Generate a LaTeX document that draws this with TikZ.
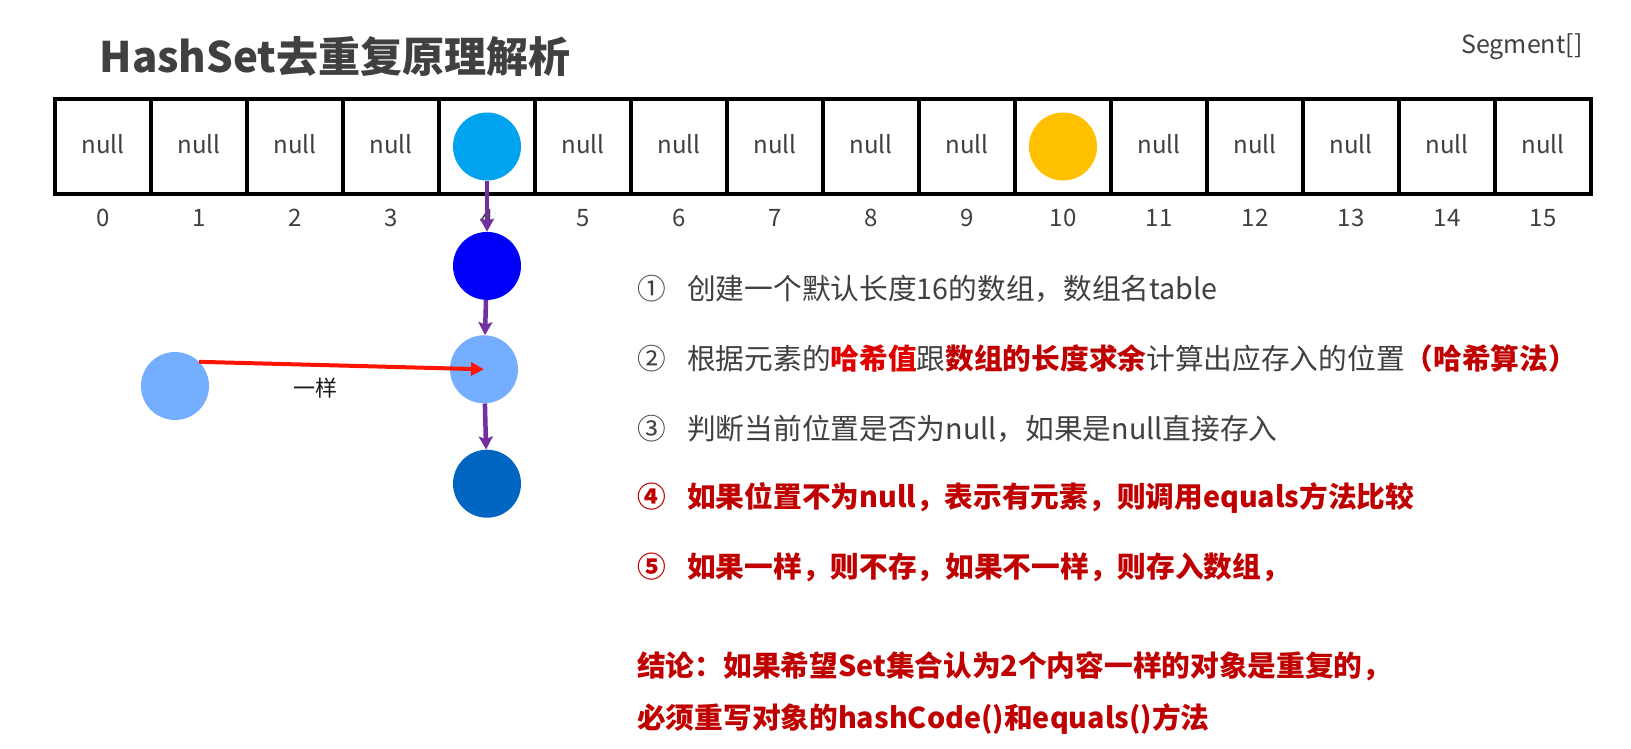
\documentclass[tikz,border=0pt]{standalone}
\usepackage{fontspec}
\setmainfont{Noto Sans CJK SC}
\usepackage{xcolor}
\usetikzlibrary{
  arrows.meta,
  positioning,
}
\definecolor{textGray}{HTML}{404040}
\definecolor{noteRed}{HTML}{C00000}
\definecolor{hashRed}{HTML}{E00000}
\definecolor{headBlue}{HTML}{00A3EE}
\definecolor{deepBlue}{HTML}{0000FA}
\definecolor{paleBlue}{HTML}{75ADFF}
\definecolor{midBlue}{HTML}{0066C2}
\definecolor{slotYellow}{HTML}{FFC000}
\definecolor{chainPurple}{HTML}{7030A0}
\definecolor{sameRed}{HTML}{FF1400}
\tikzset{
  cell/.style={
    rectangle, draw=black, line width=4pt, inner sep=0pt,
    minimum width=96pt, minimum height=95.5pt,
  },
  nullText/.style={
    text=textGray, yshift=2pt, font=\fontsize{24}{28}\selectfont,
  },
  idxText/.style={
    text=textGray, inner sep=0pt, font=\fontsize{24}{28}\selectfont,
  },
  ball/.style={
    circle, fill=#1, draw=none, minimum size=68pt, inner sep=0pt,
  },
  stepText/.style={
    anchor=west, inner sep=0pt, text height=25pt, text depth=5pt,
    text=textGray, font=\fontsize{28.7}{34}\selectfont,
  },
  stepRed/.style={
    stepText, text=noteRed, font=\fontsize{28.7}{34}\selectfont\bfseries,
  },
  chainArrow/.style={
    -{Stealth[length=13pt,width=14pt,inset=2.5pt]}, line width=4.5pt,
    draw=chainPurple,
  },
  sameArrow/.style={
    -{Triangle[length=13pt,width=13pt]}, line width=4pt, draw=sameRed,
  },
}
\newcommand{\stepNo}[1]{\makebox[50pt][l]{#1}}

\begin{document}
\begin{tikzpicture}[x=1pt, y=-1pt, node distance=40pt]
\fill[white] (0,0) rectangle (1631,748);

\node[anchor=west, text=textGray, font=\fontsize{42}{50}\selectfont\bfseries]
  (title) at (96,57) {HashSet去重复原理解析};
\node[anchor=east, text=textGray, font=\fontsize{25}{30}\selectfont]
  (segName) at (1586,47) {Segment[]};

% the table, 16 slots
\foreach \i in {0,...,15} {
  \node[cell] (c\i) at ({103+96*\i},146.5) {};
  \node[idxText, below=21.5pt of c\i.south, anchor=center] (idx\i) {\i};
}
\foreach \i in {0,1,2,3,5,6,7,8,9,11,12,13,14,15}
  \node[nullText] (null\i) at (c\i) {null};

% occupied slots
\node[ball=headBlue]   (slot4)  at (c4)  {};
\node[ball=slotYellow] (slot10) at (c10) {};

% linked list under slot 4
\node[ball=deepBlue, below=51pt of slot4] (link1) {};
\node[ball=paleBlue, below=35pt of link1, xshift=-3pt] (link2) {};
\node[ball=midBlue, below=46pt of link2, xshift=3pt] (link3) {};
\node[ball=paleBlue] (newElem) at (175,386) {};

\draw[chainArrow] (slot4) -- (link1);
\draw[chainArrow] (link1) -- (link2);
\draw[chainArrow] (link2) -- (link3);

\draw[sameArrow] (newElem.45) --
  node[pos=0.41, below=11pt, inner sep=0pt, text=black!90,
       font=\fontsize{22}{26}\selectfont] (sameLbl) {一样}
  (link2.center);

% steps
\node[stepText] (s1) at (637,289)
  {\stepNo{①}创建一个默认长度16的数组，数组名table};
\node[stepText, below=70pt of s1.west, anchor=west] (s2)
  {\stepNo{②}根据元素的\textbf{\color{hashRed}哈希值}跟\textbf{\color{noteRed}数组的长度求余}计算出应存入的位置\textbf{\color{noteRed}（哈希算法）}};
\node[stepText, below=70pt of s2.west, anchor=west] (s3)
  {\stepNo{③}判断当前位置是否为null，如果是null直接存入};
\node[stepRed, below=68pt of s3.west, anchor=west] (s4)
  {\stepNo{④}如果位置不为null，表示有元素，则调用equals方法比较};
\node[stepRed, below=70pt of s4.west, anchor=west] (s5)
  {\stepNo{⑤}如果一样，则不存，如果不一样，则存入数组，};

% conclusion
\node[stepRed, below=99pt of s5.west, anchor=west] (concl1)
  {结论：如果希望Set集合认为2个内容一样的对象是重复的，};
\node[stepRed, below=52pt of concl1.west, anchor=west] (concl2)
  {必须重写对象的hashCode()和equals()方法};

\end{tikzpicture}
\end{document}
